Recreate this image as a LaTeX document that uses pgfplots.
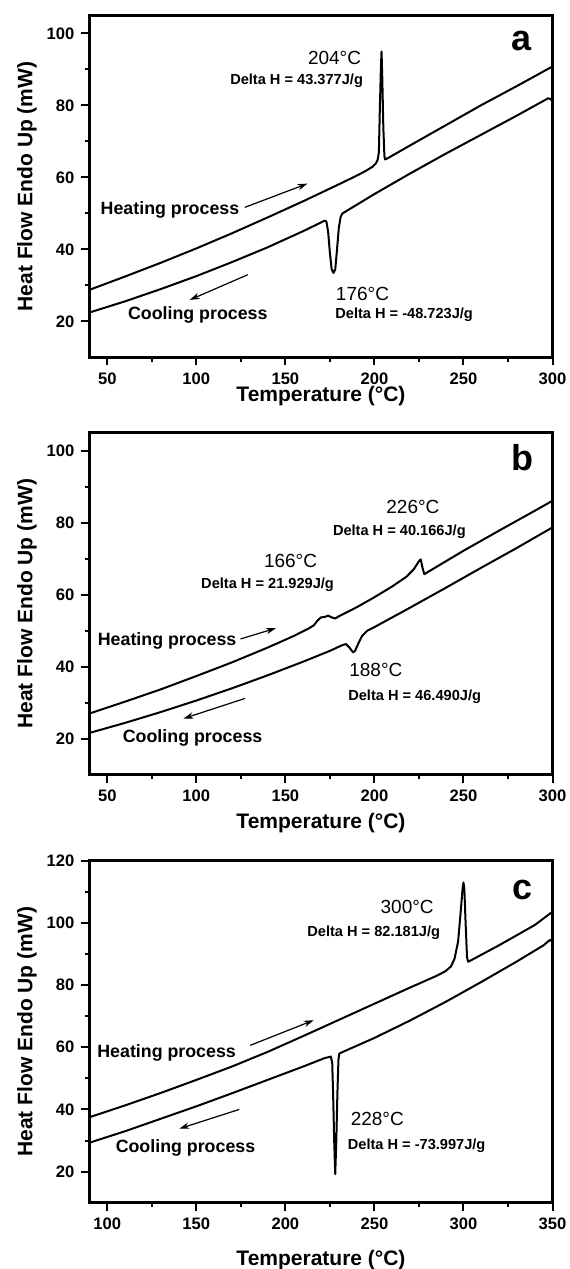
\documentclass[border=0pt]{standalone}
\usepackage{fontspec}
\setmainfont{Liberation Sans}
\usepackage{pgfplots}
\pgfplotsset{compat=1.18}
\usetikzlibrary{arrows.meta}

\newcommand{\tfont}{\fontsize{9.5}{11}\selectfont}
\newcommand{\pfont}{\fontsize{8.9}{11}\selectfont\bfseries}
\newcommand{\dfont}{\fontsize{7.3}{8}\selectfont\bfseries}
\newcommand{\lfont}{\fontsize{18}{20}\selectfont\bfseries}

\tikzset{arr/.style={-{Stealth[length=5pt,width=3.2pt]}, line width=0.6pt}}

\pgfplotsset{
  dsc/.style={
    scale only axis, width=231.5pt, height=171pt,
    axis line style={line width=1.3pt},
    tick align=outside, xtick pos=left, ytick pos=left,
    major tick length=4pt, minor tick length=2.2pt,
    tick style={black, line width=1pt},
    minor x tick num=1, minor y tick num=1,
    /pgf/number format/assume math mode=true,
    ticklabel style={font=\fontsize{8.3}{10}\selectfont\bfseries},
    label style={font=\fontsize{10.5}{12}\selectfont\bfseries},
    ylabel={Heat Flow Endo Up (mW)},
    xlabel={Temperature (°C)},
    ylabel style={at={(axis description cs:-0.135,0.5)}, anchor=center},
    cycle list={{black}},
    every axis plot/.append style={line width=1pt, line join=round},
    no markers,
  },
}

\begin{document}
\begin{tikzpicture}
\useasboundingbox (-44.75pt,7.75pt) rectangle (239.75pt,-626.75pt);
\clip (-44.75pt,7.75pt) rectangle (239.75pt,-626.75pt);

% ---- panel a
\begin{axis}[dsc, at={(0,0)}, anchor=north west,
  xmin=40, xmax=300, ymin=10, ymax=105,
  xtick={50,100,...,300}, ytick={20,40,...,100},
  xlabel style={at={(axis description cs:0.5,0)}, yshift=-19.35pt, anchor=center}]
\addplot coordinates {(40,28.8) (60,32.5) (80,36.3) (100,40.3) (120,44.5) (140,48.9) (160,53.4) (180,58.1) (190,60.5) (195,61.8) (199,63) (200.8,63.9) (201.8,64.9) (202.5,67) (203,78) (203.6,90) (204,95) (204.4,88) (205,74) (205.6,66) (206,65) (208,65.5) (220,68.9) (240,74.5) (260,80.1) (280,85.4) (298,90.3) (300,90.8)};
\addplot coordinates {(40,22.5) (60,25.6) (80,29) (100,32.6) (120,36.5) (140,40.6) (160,45.1) (170,47.5) (172,48.0) (173,47.8) (174,45) (175,39) (176,34.5) (177,33.5) (178,34.5) (179,40) (180,46) (181,49) (182,50) (186,51.2) (190,52.4) (200,55.4) (220,61.1) (240,66.6) (260,71.9) (280,77.2) (295,81.3) (297.5,82) (299,81.8) (300,81)};
\node[font=\lfont] at (axis cs:282.7,98) {a};
\node[font=\tfont] at (axis cs:177.6,93.1) {204°C};
\node[font=\dfont] at (axis cs:156.3,87) {Delta H = 43.377J/g};
\node[font=\pfont] at (axis cs:85.2,51) {Heating process};
\draw[arr] (axis cs:127.2,51.7) -- (axis cs:162.4,58.3);
\node[font=\pfont] at (axis cs:100.8,21.8) {Cooling process};
\draw[arr] (axis cs:128.9,33) -- (axis cs:96.3,26);
\node[font=\tfont] at (axis cs:193.3,27.6) {176°C};
\node[font=\dfont] at (axis cs:216.7,21.8) {Delta H = -48.723J/g};
\end{axis}

% ---- panel b
\begin{axis}[dsc, at={(0,-208.6pt)}, anchor=north west,
  xmin=40, xmax=300, ymin=10, ymax=105,
  xtick={50,100,...,300}, ytick={20,40,...,100},
  xlabel style={at={(axis description cs:0.5,0)}, yshift=-24.2pt, anchor=center}]
\addplot coordinates {(40,27) (60,30.3) (80,33.7) (100,37.4) (120,41.2) (140,45.3) (155,48.6) (163,50.6) (166,51.5) (168,52.8) (170,53.7) (172,53.8) (174,54.2) (176,53.7) (178,53.4) (180,54) (190,56.5) (200,59.3) (210,62.3) (218,65) (222,67) (225,69.3) (226,69.8) (227,67.5) (228,65.7) (230,66.3) (250,72.2) (270,77.8) (290,83.3) (300,86.1)};
\addplot coordinates {(40,21.6) (60,24.4) (80,27.4) (100,30.6) (120,34) (140,37.6) (160,41.4) (175,44.4) (182,46) (184,46.3) (186,45.3) (188,44) (189,44.3) (191,46.5) (193,48.5) (196,50) (200,51) (220,56.4) (240,61.9) (260,67.5) (280,73) (300,78.7)};
\node[font=\lfont] at (axis cs:283.3,98) {b};
\node[font=\tfont] at (axis cs:221.6,84.3) {226°C};
\node[font=\dfont] at (axis cs:214,77.5) {Delta H = 40.166J/g};
\node[font=\tfont] at (axis cs:152.9,69.4) {166°C};
\node[font=\dfont] at (axis cs:140,62.8) {Delta H = 21.929J/g};
\node[font=\pfont] at (axis cs:83.6,47.2) {Heating process};
\draw[arr] (axis cs:124.8,47.7) -- (axis cs:144.7,50.7);
\node[font=\tfont] at (axis cs:200.8,39.1) {188°C};
\node[font=\dfont] at (axis cs:222.6,31.7) {Delta H = 46.490J/g};
\node[font=\pfont] at (axis cs:97.9,20.2) {Cooling process};
\draw[arr] (axis cs:127.4,31.2) -- (axis cs:92.8,25.6);
\end{axis}

% ---- panel c
\begin{axis}[dsc, at={(0,-422.6pt)}, anchor=north west,
  xmin=90, xmax=350, ymin=10, ymax=120,
  xtick={100,150,...,350}, ytick={20,40,...,120},
  xlabel style={at={(axis description cs:0.5,0)}, yshift=-28.65pt, anchor=center}]
\addplot coordinates {(90,37.5) (110,41.3) (130,45.3) (150,49.5) (170,53.8) (190,58.5) (210,63.6) (230,68.8) (250,74) (270,79.2) (285,83) (290,84.5) (293,86) (295,88.5) (297,94) (298.5,104) (299.5,111) (300,113) (300.5,111) (301.2,100) (302,89) (302.6,87.5) (305,88.2) (320,92.8) (340,99.3) (350,103.6)};
\addplot coordinates {(90,29.3) (110,33) (130,37) (150,41) (170,45.2) (190,49.5) (210,53.8) (222,56.5) (225.5,57) (226.3,55) (226.8,45) (227.4,30) (228,19.2) (228.6,30) (229.2,45) (229.8,56) (230.3,58) (235,59.2) (250,63) (265,67.2) (270,68.6) (290,74.6) (310,81) (330,87.6) (345,92.8) (348.5,94.5) (350,94)};
\node[font=\lfont] at (axis cs:333.3,110.6) {c};
\node[font=\tfont] at (axis cs:268.4,105.2) {300°C};
\node[font=\dfont] at (axis cs:249.6,96.7) {Delta H = 82.181J/g};
\node[font=\pfont] at (axis cs:133.3,58.2) {Heating process};
\draw[arr] (axis cs:180.2,60.6) -- (axis cs:215.9,68.7);
\node[font=\pfont] at (axis cs:143.9,27.7) {Cooling process};
\draw[arr] (axis cs:174.1,40) -- (axis cs:140.4,33.8);
\node[font=\tfont] at (axis cs:251.6,37) {228°C};
\node[font=\dfont] at (axis cs:273.7,28.4) {Delta H = -73.997J/g};
\end{axis}
\end{tikzpicture}
\end{document}
